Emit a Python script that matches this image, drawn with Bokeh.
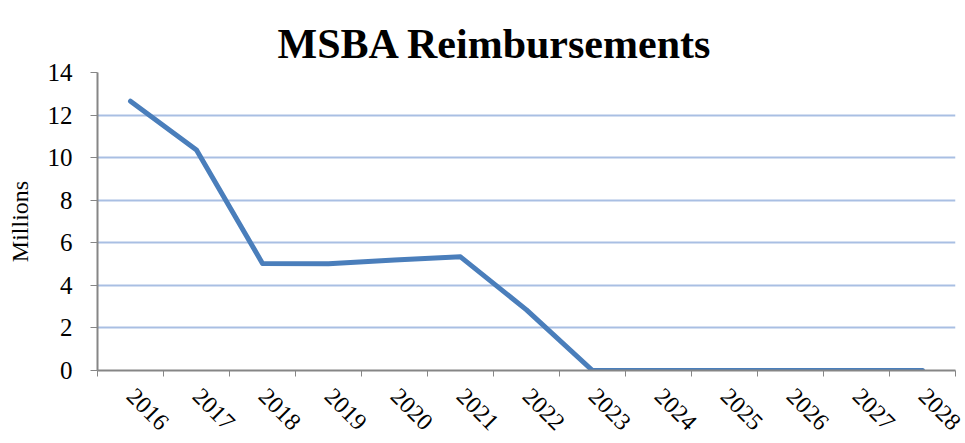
import math
from bokeh.plotting import figure
from bokeh.models import FixedTicker, Range1d, ColumnDataSource
from bokeh.embed import file_html
from bokeh.resources import INLINE

title_text = "MSBA Reimbursements"
years = ["2016", "2017", "2018", "2019", "2020", "2021", "2022",
         "2023", "2024", "2025", "2026", "2027", "2028"]
reimbursements = [12.65, 10.36, 5.03, 5.02, 5.19, 5.34, 2.85,
                  0.0, 0.0, 0.0, 0.0, 0.0, 0.0]
y_ticks = [0, 2, 4, 6, 8, 10, 12, 14]

xs = [i + 0.5 for i in range(len(years))]
src = ColumnDataSource(dict(x=xs, y=reimbursements))

p = figure(width=964, height=440, output_backend="svg", toolbar_location=None,
           x_range=Range1d(0, len(years)), y_range=Range1d(0, 14),
           min_border_left=97, min_border_right=9, min_border_top=72,
           min_border_bottom=70)
p.outline_line_color = None
p.background_fill_color = "white"
p.border_fill_color = "white"

p.title.text = title_text
p.title.text_font = "Liberation Serif"
p.title.text_font_size = "42px"
p.title.text_font_style = "bold"
p.title.align = "left"
p.title.offset = 180
p.title.standoff = 12
p.title.text_color = "black"

p.line("x", "y", source=src, line_color="#4A7EBB", line_width=5, line_join="round", line_cap="round")

# x axis
xa = p.xaxis[0]
xa.ticker = FixedTicker(ticks=xs, minor_ticks=list(range(len(years) + 1)))
xa.major_label_overrides = {x: y for x, y in zip(xs, years)}
xa.major_tick_line_color = None
xa.minor_tick_in = 0
xa.minor_tick_out = 6
xa.minor_tick_line_color = "#868686"
xa.minor_tick_line_width = 1
xa.axis_line_color = "#868686"
xa.axis_line_width = 2
xa.major_label_orientation = -math.pi / 4
xa.major_label_standoff = 16
xa.major_label_text_font = "Liberation Serif"
xa.major_label_text_font_size = "24px"
xa.major_label_text_color = "black"

# y axis
ya = p.yaxis[0]
ya.ticker = FixedTicker(ticks=y_ticks)
ya.minor_tick_line_color = None
ya.major_tick_in = 0
ya.major_tick_out = 7
ya.major_tick_line_color = "#868686"
ya.axis_line_color = "#868686"
ya.axis_line_width = 2
ya.major_label_standoff = 18
ya.major_label_text_font = "Liberation Serif"
ya.major_label_text_font_size = "25px"
ya.major_label_text_color = "black"
ya.axis_label = "Millions"
ya.axis_label_standoff = 12
ya.axis_label_text_font = "Liberation Serif"
ya.axis_label_text_font_size = "24px"
ya.axis_label_text_font_style = "normal"
ya.axis_label_text_color = "black"

p.xgrid.grid_line_color = None
p.ygrid.grid_line_color = "#A9BFE3"
p.ygrid.grid_line_width = 2

open("out.html", "w").write(file_html(p, INLINE))
